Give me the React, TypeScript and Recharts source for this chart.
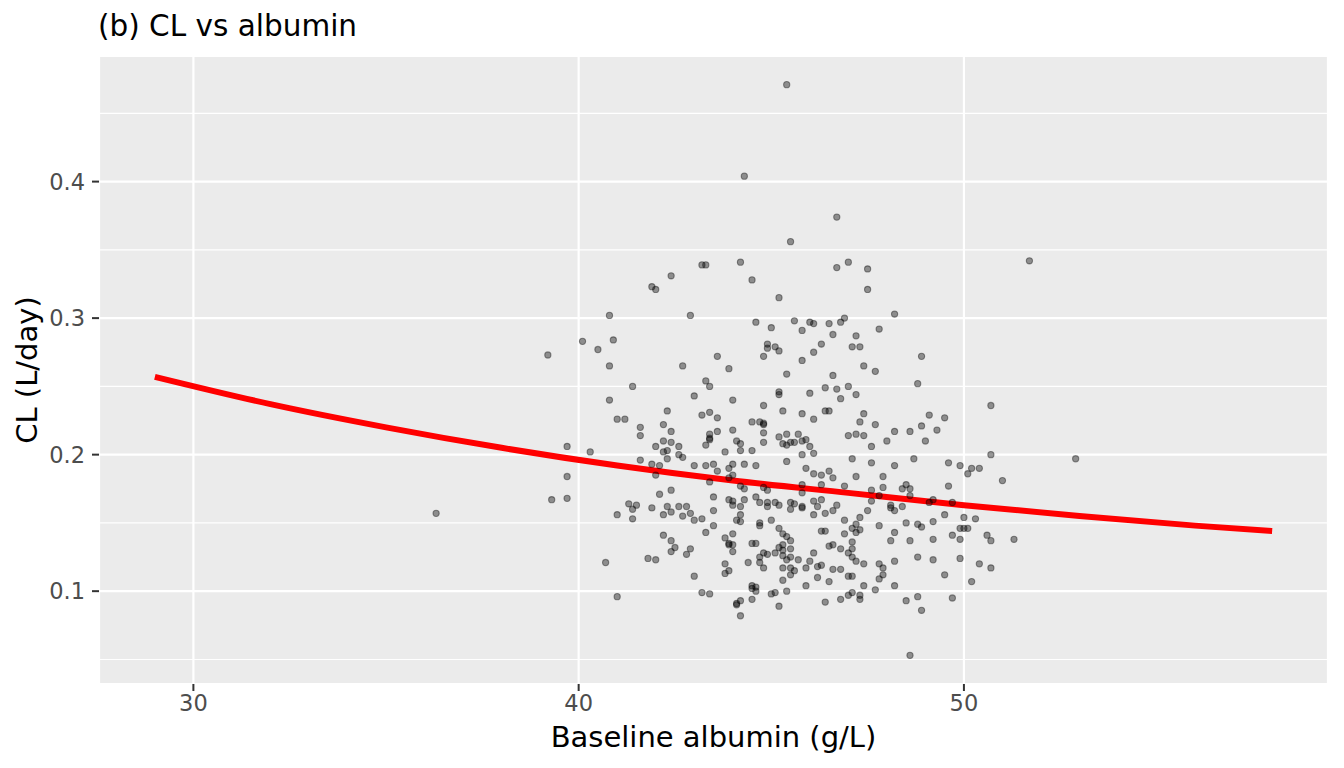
import React from "react";
import {
  ComposedChart,
  Scatter,
  Line,
  XAxis,
  YAxis,
  CartesianGrid,
} from "recharts";

const observed: [number, number][] = [
  [40.8, 0.302], [40.1, 0.283], [40.9, 0.284], [40.5, 0.277], [39.2, 0.273], [40.8, 0.265],
  [40.8, 0.24], [41.0, 0.226], [39.7, 0.206], [40.3, 0.202], [39.7, 0.184], [39.3, 0.167],
  [39.7, 0.168], [36.3, 0.157], [41.0, 0.156], [40.7, 0.121], [41.0, 0.096], [45.4, 0.471],
  [44.3, 0.404], [46.7, 0.374], [45.5, 0.356], [43.2, 0.339], [43.3, 0.339], [44.2, 0.341],
  [42.4, 0.331], [44.5, 0.328], [46.7, 0.337], [47.0, 0.341], [47.5, 0.336], [51.7, 0.342],
  [41.9, 0.323], [42.0, 0.321], [45.2, 0.315], [42.9, 0.302], [44.6, 0.297], [45.0, 0.293],
  [45.6, 0.298], [46.0, 0.297], [46.1, 0.296], [45.8, 0.291], [44.9, 0.281], [44.9, 0.278],
  [45.1, 0.279], [45.2, 0.276], [44.8, 0.272], [46.1, 0.275], [43.6, 0.272], [45.8, 0.269],
  [42.7, 0.265], [43.9, 0.263], [45.4, 0.259], [43.3, 0.254], [43.4, 0.25], [41.4, 0.25],
  [45.2, 0.246], [45.2, 0.244], [46.0, 0.245], [43.0, 0.243], [44.0, 0.24], [44.8, 0.236],
  [42.3, 0.232], [45.3, 0.232], [41.2, 0.226], [43.2, 0.229], [43.4, 0.231], [43.6, 0.227],
  [45.8, 0.23], [46.1, 0.226], [42.2, 0.222], [44.5, 0.224], [44.7, 0.224], [44.8, 0.223],
  [44.8, 0.222], [41.6, 0.22], [44.0, 0.218], [42.4, 0.217], [41.6, 0.214], [43.6, 0.217],
  [44.8, 0.216], [43.4, 0.215], [43.4, 0.212], [43.4, 0.211], [43.3, 0.207], [45.2, 0.213],
  [45.4, 0.215], [45.7, 0.215], [45.9, 0.211], [45.3, 0.208], [45.4, 0.207], [45.5, 0.209],
  [45.6, 0.209], [45.8, 0.21], [46.0, 0.206], [46.1, 0.201], [42.2, 0.21], [42.0, 0.206],
  [42.4, 0.209], [42.6, 0.206], [42.3, 0.203], [42.2, 0.202], [42.6, 0.2], [42.7, 0.198],
  [42.3, 0.197], [44.1, 0.21], [44.2, 0.208], [44.8, 0.209], [43.8, 0.202], [44.2, 0.203],
  [44.5, 0.203], [45.8, 0.2], [41.6, 0.196], [41.9, 0.193], [42.1, 0.192], [43.0, 0.192],
  [43.3, 0.192], [43.5, 0.193], [43.6, 0.188], [44.0, 0.193], [43.9, 0.19], [44.3, 0.193],
  [44.6, 0.192], [45.4, 0.195], [45.9, 0.19], [46.1, 0.186], [42.0, 0.185], [44.0, 0.185],
  [43.9, 0.183], [43.4, 0.18], [44.2, 0.177], [44.3, 0.175], [44.8, 0.176], [44.9, 0.174],
  [45.8, 0.178], [42.1, 0.171], [42.4, 0.174], [43.5, 0.169], [45.8, 0.172], [41.3, 0.164],
  [41.5, 0.163], [41.4, 0.16], [41.9, 0.161], [42.3, 0.162], [42.2, 0.156], [42.4, 0.158],
  [42.6, 0.162], [42.8, 0.162], [42.7, 0.155], [42.9, 0.157], [41.4, 0.153], [43.5, 0.159],
  [43.0, 0.152], [43.2, 0.153], [43.9, 0.167], [44.0, 0.166], [44.0, 0.163], [44.2, 0.162],
  [44.3, 0.167], [44.6, 0.169], [44.7, 0.165], [44.9, 0.165], [44.9, 0.162], [45.1, 0.165],
  [45.2, 0.163], [45.5, 0.165], [45.6, 0.164], [45.5, 0.16], [45.8, 0.162], [45.8, 0.161],
  [46.1, 0.166], [46.2, 0.162], [46.1, 0.156], [44.2, 0.156], [44.1, 0.152], [44.2, 0.151],
  [45.0, 0.152], [43.5, 0.148], [43.3, 0.143], [44.7, 0.15], [44.7, 0.148], [45.2, 0.146],
  [44.0, 0.142], [45.3, 0.142], [45.4, 0.14], [42.2, 0.141], [42.4, 0.137], [42.5, 0.132],
  [42.4, 0.129], [43.8, 0.139], [43.9, 0.134], [44.0, 0.134], [43.9, 0.135], [44.0, 0.129],
  [44.5, 0.135], [44.6, 0.135], [45.5, 0.137], [45.3, 0.134], [45.3, 0.13], [45.2, 0.132],
  [45.5, 0.131], [42.9, 0.131], [42.8, 0.127], [41.8, 0.124], [42.0, 0.123], [44.8, 0.128],
  [44.9, 0.127], [44.7, 0.125], [45.1, 0.128], [45.3, 0.126], [45.4, 0.123], [45.5, 0.125],
  [45.7, 0.123], [44.7, 0.121], [44.8, 0.117], [44.4, 0.121], [43.8, 0.12], [43.9, 0.115],
  [43.8, 0.113], [45.3, 0.117], [45.5, 0.117], [45.6, 0.115], [45.5, 0.112], [45.9, 0.117],
  [46.0, 0.122], [46.1, 0.128], [46.2, 0.118], [46.2, 0.11], [45.3, 0.108], [45.9, 0.104],
  [43.0, 0.111], [44.5, 0.104], [44.6, 0.103], [44.6, 0.1], [44.5, 0.102], [45.4, 0.1],
  [45.0, 0.098], [45.1, 0.099], [43.2, 0.099], [43.4, 0.098], [44.5, 0.094], [44.2, 0.093],
  [44.1, 0.09], [44.1, 0.091], [45.2, 0.089], [44.2, 0.082], [47.5, 0.321], [48.2, 0.303],
  [46.5, 0.296], [46.9, 0.3], [46.8, 0.297], [46.6, 0.288], [47.2, 0.287], [47.8, 0.292],
  [46.3, 0.281], [47.1, 0.279], [47.3, 0.279], [48.9, 0.272], [47.4, 0.265], [47.7, 0.261],
  [46.6, 0.258], [46.4, 0.249], [46.7, 0.248], [47.0, 0.25], [46.8, 0.241], [47.2, 0.244],
  [48.8, 0.252], [46.4, 0.232], [46.5, 0.232], [50.7, 0.236], [47.4, 0.23], [49.1, 0.229],
  [49.5, 0.227], [47.3, 0.224], [47.7, 0.222], [48.9, 0.221], [49.3, 0.218], [47.0, 0.214],
  [47.2, 0.215], [47.4, 0.214], [48.2, 0.217], [48.6, 0.217], [47.6, 0.206], [48.0, 0.21],
  [49.0, 0.21], [47.1, 0.197], [47.6, 0.194], [48.2, 0.192], [48.7, 0.197], [49.6, 0.194],
  [49.9, 0.192], [50.7, 0.2], [52.9, 0.197], [50.1, 0.186], [50.2, 0.19], [50.4, 0.19],
  [46.3, 0.185], [46.5, 0.188], [46.6, 0.183], [47.2, 0.184], [47.9, 0.184], [51.0, 0.181],
  [49.6, 0.177], [46.9, 0.177], [46.3, 0.178], [47.6, 0.174], [47.9, 0.176], [48.4, 0.175],
  [48.5, 0.178], [48.6, 0.175], [47.8, 0.17], [47.6, 0.166], [48.6, 0.17], [46.3, 0.167],
  [46.7, 0.163], [48.1, 0.163], [48.1, 0.161], [48.2, 0.159], [48.4, 0.162], [49.2, 0.167],
  [49.1, 0.165], [49.7, 0.165], [46.6, 0.159], [46.4, 0.157], [47.5, 0.159], [49.5, 0.156],
  [47.3, 0.154], [46.9, 0.152], [50.0, 0.154], [50.3, 0.153], [47.2, 0.149], [47.1, 0.146],
  [47.3, 0.145], [47.2, 0.143], [47.8, 0.148], [48.5, 0.15], [48.8, 0.149], [48.9, 0.147],
  [49.2, 0.151], [46.3, 0.144], [46.4, 0.144], [46.9, 0.142], [48.2, 0.143], [49.9, 0.146],
  [50.0, 0.146], [50.1, 0.146], [49.7, 0.141], [49.9, 0.138], [50.6, 0.141], [50.7, 0.137],
  [51.3, 0.138], [48.1, 0.137], [48.6, 0.137], [49.2, 0.138], [47.1, 0.136], [46.5, 0.133],
  [46.6, 0.134], [46.8, 0.131], [47.1, 0.131], [47.0, 0.128], [47.1, 0.125], [47.2, 0.122],
  [47.4, 0.12], [47.8, 0.12], [47.9, 0.117], [48.2, 0.122], [48.8, 0.125], [49.2, 0.123],
  [49.9, 0.124], [50.4, 0.12], [50.7, 0.117], [46.3, 0.119], [46.6, 0.116], [46.8, 0.116],
  [47.0, 0.111], [47.1, 0.111], [46.5, 0.107], [47.9, 0.112], [47.8, 0.109], [49.5, 0.112],
  [50.2, 0.107], [47.4, 0.104], [47.7, 0.101], [48.2, 0.104], [47.1, 0.099], [47.0, 0.097],
  [47.3, 0.097], [47.3, 0.094], [46.8, 0.094], [46.4, 0.092], [48.5, 0.093], [48.8, 0.096],
  [49.7, 0.095], [48.9, 0.086], [48.6, 0.053],
];

// fitted curve, read at a few albumin values
const fitAlbumin = [29, 32, 35, 38, 41, 44, 47, 50, 53, 56, 58];
const fitCl = [0.257, 0.237, 0.22, 0.205, 0.192, 0.181, 0.172, 0.163, 0.155, 0.148, 0.144];

const xTicks = [30, 40, 50];
const xMinor = [35, 45, 55];
const yTicks = [0.1, 0.2, 0.3, 0.4];
const yMinor = [0.05, 0.15, 0.25, 0.35, 0.45];

const X_DOMAIN: [number, number] = [27.55, 59.45];
const Y_DOMAIN: [number, number] = [0.032, 0.492];

const FONT = "'DejaVu Sans', sans-serif";

const pointData = observed.map(([albumin, cl]) => ({ albumin, cl }));
const fitData = fitAlbumin.map((albumin, i) => ({ albumin, cl: fitCl[i] }));

const Dot = (props: any) => (
  <circle
    cx={props.cx}
    cy={props.cy}
    r={3.1}
    fill="rgba(0,0,0,0.4)"
    stroke="rgba(0,0,0,0.4)"
    strokeWidth={1.1}
  />
);

const tickStyle = { fill: "#4D4D4D", fontSize: 22.5, fontFamily: FONT };

export default function App() {
  return (
    <div style={{ position: "relative", width: 1344, height: 768 }}>
      <style>{"body{margin:0;background:#fff}"}</style>
      <ComposedChart
        width={1344}
        height={768}
        margin={{ top: 56, right: 16, bottom: 0, left: 0 }}
      >
        <XAxis
          xAxisId="minor"
          type="number"
          domain={X_DOMAIN}
          ticks={xMinor}
          allowDataOverflow
          hide
        />
        <YAxis
          yAxisId="minor"
          type="number"
          domain={Y_DOMAIN}
          ticks={yMinor}
          allowDataOverflow
          hide
        />
        <XAxis
          xAxisId="major"
          type="number"
          dataKey="albumin"
          domain={X_DOMAIN}
          ticks={xTicks}
          allowDataOverflow
          height={84}
          axisLine={false}
          tickSize={7}
          tickMargin={4}
          tickLine={{ stroke: "#333333", strokeWidth: 2 }}
          tick={tickStyle}
        />
        <YAxis
          yAxisId="major"
          type="number"
          dataKey="cl"
          domain={Y_DOMAIN}
          ticks={yTicks}
          allowDataOverflow
          width={99}
          axisLine={false}
          tickSize={7}
          tickMargin={7}
          tickLine={{ stroke: "#333333", strokeWidth: 2 }}
          tick={tickStyle}
        />
        <CartesianGrid
          xAxisId="minor"
          yAxisId="minor"
          fill="#EBEBEB"
          fillOpacity={1}
          stroke="#FFFFFF"
          strokeWidth={1.1}
        />
        <CartesianGrid
          xAxisId="major"
          yAxisId="major"
          stroke="#FFFFFF"
          strokeWidth={2.2}
        />
        <Scatter
          xAxisId="major"
          yAxisId="major"
          data={pointData}
          dataKey="cl"
          shape={Dot}
          isAnimationActive={false}
        />
        <Line
          xAxisId="major"
          yAxisId="major"
          data={fitData}
          dataKey="cl"
          type="monotone"
          stroke="#FF0000"
          strokeWidth={6}
          dot={false}
          activeDot={false}
          isAnimationActive={false}
        />
      </ComposedChart>
      <svg
        width={1344}
        height={768}
        style={{ position: "absolute", left: 0, top: 0, pointerEvents: "none" }}
      >
        <text x={98} y={36} fontFamily={FONT} fontSize={29.5} fill="#000">
          (b) CL vs albumin
        </text>
        <text
          x={713.5}
          y={747}
          textAnchor="middle"
          fontFamily={FONT}
          fontSize={29}
          fill="#000"
        >
          Baseline albumin (g/L)
        </text>
        <text
          x={37}
          y={370}
          transform="rotate(-90 37 370)"
          textAnchor="middle"
          fontFamily={FONT}
          fontSize={29}
          fill="#000"
        >
          CL (L/day)
        </text>
      </svg>
    </div>
  );
}
